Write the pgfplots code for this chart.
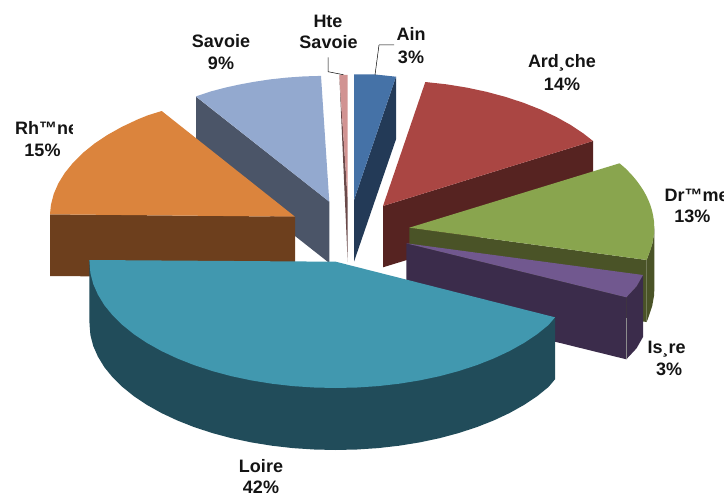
\documentclass[border=0pt]{standalone}
\usepackage{pgfplots}
\pgfplotsset{compat=1.18}
\usepackage{fontspec}
\setmainfont{Liberation Sans}
\definecolor{ainT}{HTML}{4572A7}\definecolor{ainS}{HTML}{233A57}
\definecolor{ardT}{HTML}{AA4643}\definecolor{ardS}{HTML}{562321}
\definecolor{droT}{HTML}{89A54E}\definecolor{droS}{HTML}{4A5327}
\definecolor{isrT}{HTML}{71588F}\definecolor{isrS}{HTML}{3B2C4B}
\definecolor{loiT}{HTML}{4198AF}\definecolor{loiS}{HTML}{214C5A}
\definecolor{rhoT}{HTML}{DB843D}\definecolor{rhoS}{HTML}{6D3F1D}
\definecolor{savT}{HTML}{93A9CF}\definecolor{savS}{HTML}{4B5568}
\definecolor{hteT}{HTML}{D19392}\definecolor{hteS}{HTML}{6A4A4A}
\newcommand{\lab}[3]{\node[anchor=base,inner sep=0pt,font=\fontsize{18}{20}\selectfont\bfseries,text=black!92] at (axis cs:#1,#2) {#3};}
\begin{document}
\begin{tikzpicture}
\begin{axis}[
  scale only axis, width=728pt, height=495pt,
  xmin=0, xmax=728, ymin=0, ymax=495, y dir=reverse,
  hide axis, clip=false,
  every axis plot/.append style={draw=none, line join=round},
]
% Page extent
\path (axis cs:0,0) rectangle (axis cs:728,495);
% Savoie
\addplot[fill=savS] coordinates {(196,96.7)(329.3,201.7)(329.3,263)(196,158)};
\addplot[fill=savT] coordinates {(195.9,96.4)(210.5,91.5)(225.8,87.5)(239.5,84.5)(253.6,81.9)(270,79.4)(286.8,77.6)(303.7,76.4)(321,75.9)(329.3,201.7)};
% Hte Savoie
\addplot[fill=hteS] coordinates {(339.3,75)(347.7,200)(347.7,262)};
\addplot[fill=hteT] coordinates {(339.3,75)(343.5,74.7)(347.7,75)(347.7,200)};
% Ain
\addplot[fill=ainS] coordinates {(396,76.7)(396,139.3)(354,261.7)(354,200)};
\addplot[fill=ainT] coordinates {(354,74.5)(375.4,74.5)(396,76.7)(354,200)};
% Ardeche
\addplot[fill=ardS] coordinates {(383,206)(593,141)(593,203)(383,267.3)};
\addplot[fill=ardT] coordinates {(383,206)(425.3,82)(446.4,84.3)(466.8,87.6)(486.5,91.8)(505.5,96.9)(523.5,102.8)(540.5,109.5)(556.2,116.9)(570.7,125)(583.7,133.7)(593,141)};
% Rhone
\addplot[fill=rhoS] coordinates {(50,214.3)(295,216.7)(295,278)(50,276)};
\addplot[fill=rhoT] coordinates {(295,216.7)(50,214.3)(50.9,205)(53.7,194.1)(58.3,183.4)(64.8,172.9)(73,162.8)(82.8,153)(94.3,143.7)(107.3,135)(121.8,126.9)(137.5,119.5)(147.6,115.4)(161.7,111)};
% Drome
\addplot[fill=droS] coordinates {(646.7,260)(648.5,255)(652.2,244.1)(654.1,233.2)(654.3,227.7)(654.3,289.7)(654.1,295.2)(652.2,306.1)(648.5,317)(646.7,322)};
\addplot[fill=droS] coordinates {(409.3,227.7)(646.7,260)(646.7,322)(409.3,290)};
\addplot[fill=droT] coordinates {(409.3,227.7)(619.5,163.3)(625.6,168.5)(631.3,174.4)(635.7,179.5)(639.5,184.6)(643,189.8)(646,195.1)(648.5,200.4)(650.6,205.8)(652.2,211.3)(653.3,216.7)(654.1,222.2)(654.3,227.7)(654.1,233.2)(653.3,238.7)(652.2,244.1)(650.6,249.6)(648.5,255)(646.7,260)};
% Isere
\addplot[fill=isrS] coordinates {(406.3,243.3)(626.3,297.3)(626.3,359.3)(406.3,305)};
\addplot[fill=isrS] coordinates {(643,275)(636.5,286.4)(626.3,297.3)(626.3,359.3)(636.5,348.4)(643,337)};
\addplot[fill=isrT] coordinates {(406.3,243.3)(643,275)(636.5,286.4)(626.3,297.3)};
\addplot[draw=black!45, line width=0.5pt] coordinates {(626.3,318)(626.3,359.3)};
% Loire
\addplot[fill=loiS] coordinates {(89.4,260)(89.5,324)(90.4,335)(93.2,345.9)(97.9,356.6)(104.3,367.1)(112.5,377.2)(122.5,387)(134,396.3)(147.1,405)(161.6,413.1)(177.4,420.5)(194.4,427.2)(212.5,433.1)(231.5,438.2)(251.4,442.4)(271.8,445.7)(292.7,448.1)(314.1,449.5)(335.5,450)(357,449.5)(378.2,448.1)(399.2,445.7)(419.6,442.4)(439.5,438.2)(458.5,433.1)(476.6,427.2)(493.6,420.5)(509.4,413.1)(523.9,405)(537,396.3)(548.5,387)(555,379.3)(555,317.3)};
\addplot[fill=loiT] coordinates {(335.7,261.7)(89.4,260)(90.4,273)(93.2,283.9)(97.9,294.6)(104.3,305.1)(112.5,315.2)(122.5,325)(134,334.3)(147.1,343)(161.6,351.1)(177.4,358.5)(194.4,365.2)(212.5,371.1)(231.5,376.2)(251.4,380.4)(271.8,383.7)(292.7,386.1)(314.1,387.5)(335.5,388)(357,387.5)(378.2,386.1)(399.2,383.7)(419.6,380.4)(439.5,376.2)(458.5,371.1)(476.6,365.2)(493.6,358.5)(509.4,351.1)(523.9,343)(537,334.3)(548.5,325)(555,317.3)};
% Leader lines
\addplot[draw=black, line width=0.5pt] coordinates {(328,57.3)(328,71.7)(343.3,74.7)};
\addplot[draw=black, line width=0.5pt] coordinates {(394,45)(379,45)(375,75)};
% Labels
\lab{328}{27.5}{Hte}
\lab{328.5}{48.5}{Savoie}
\lab{411}{40.5}{Ain}
\lab{411}{63.5}{3\%}
\lab{221}{47.5}{Savoie}
\lab{221}{69.5}{9\%}
\lab{562}{67.5}{Ard¸che}
\lab{562}{90}{14\%}
\lab{42.5}{156.5}{15\%}
\lab{692.3}{222.5}{13\%}
\lab{666.7}{353.5}{Is¸re}
\lab{669}{375.5}{3\%}
\lab{261}{472.5}{Loire}
\lab{261}{493}{42\%}
\begin{scope}
\clip (axis cs:0,110) rectangle (axis cs:72.6,140);
\node[anchor=base west,inner sep=0pt,font=\fontsize{18}{20}\selectfont\bfseries,text=black!92] at (axis cs:15,134.5) {Rh™ne};
\end{scope}
\begin{scope}
\clip (axis cs:655,180) rectangle (axis cs:723,205);
\node[anchor=base west,inner sep=0pt,font=\fontsize{18}{20}\selectfont\bfseries,text=black!92] at (axis cs:664.3,201.5) {Dr™me};
\end{scope}
\end{axis}
\end{tikzpicture}
\end{document}
